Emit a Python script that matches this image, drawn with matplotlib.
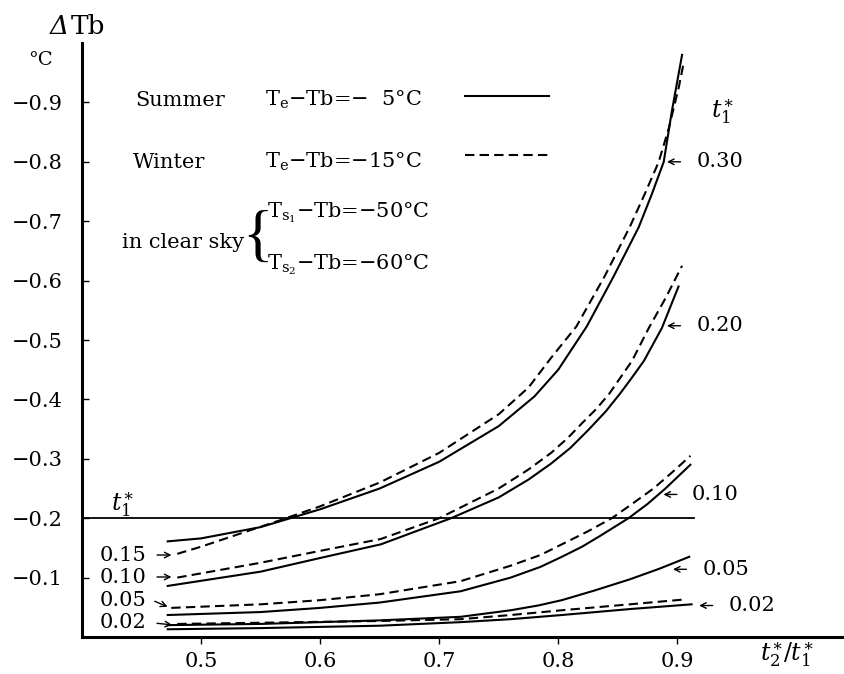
import matplotlib.pyplot as plt

plt.rcParams['font.family'] = ['DejaVu Serif', 'DejaVu Sans']
plt.rcParams['mathtext.fontset'] = 'dejavuserif'

# curves: x = t2*/t1*, y = delta Tb (degC)
# summer (solid) and winter (dashed), one pair per t1*
x_s30 = [0.472, 0.50, 0.55, 0.60, 0.65, 0.70, 0.75, 0.78, 0.80, 0.824, 0.8465, 0.8676, 0.8785, 0.8886, 0.8954, 0.904]
y_s30 = [-0.161, -0.166, -0.185, -0.215, -0.25, -0.295, -0.355, -0.405, -0.45, -0.523, -0.607, -0.69, -0.745, -0.80, -0.885, -0.98]
x_w30 = [0.48, 0.50, 0.567, 0.60, 0.65, 0.70, 0.75, 0.775, 0.794, 0.8153, 0.8389, 0.86, 0.8727, 0.8844, 0.8929, 0.9013, 0.9055]
y_w30 = [-0.14, -0.152, -0.197, -0.22, -0.26, -0.31, -0.375, -0.42, -0.47, -0.523, -0.607, -0.69, -0.746, -0.80, -0.857, -0.926, -0.968]

x_s20 = [0.472, 0.55, 0.60, 0.651, 0.71, 0.75, 0.775, 0.794, 0.81, 0.825, 0.84, 0.852, 0.862, 0.872, 0.887, 0.901]
y_s20 = [-0.086, -0.11, -0.133, -0.156, -0.20, -0.235, -0.265, -0.292, -0.318, -0.348, -0.38, -0.41, -0.437, -0.465, -0.52, -0.59]
x_w20 = [0.48, 0.55, 0.60, 0.651, 0.70, 0.75, 0.775, 0.794, 0.808, 0.82, 0.832, 0.843, 0.862, 0.876, 0.89, 0.904]
y_w20 = [-0.10, -0.125, -0.145, -0.165, -0.20, -0.25, -0.282, -0.31, -0.335, -0.36, -0.384, -0.41, -0.465, -0.52, -0.57, -0.625]

x_s10 = [0.472, 0.55, 0.60, 0.65, 0.718, 0.76, 0.785, 0.803, 0.82, 0.835, 0.859, 0.875, 0.89, 0.911]
y_s10 = [-0.037, -0.042, -0.049, -0.058, -0.077, -0.10, -0.118, -0.135, -0.152, -0.17, -0.20, -0.224, -0.25, -0.29]
x_w10 = [0.475, 0.55, 0.60, 0.65, 0.718, 0.76, 0.785, 0.803, 0.825, 0.845, 0.862, 0.88, 0.895, 0.911]
y_w10 = [-0.049, -0.055, -0.062, -0.072, -0.094, -0.12, -0.138, -0.156, -0.178, -0.20, -0.224, -0.25, -0.276, -0.305]

x_s05 = [0.472, 0.55, 0.60, 0.65, 0.718, 0.76, 0.783, 0.803, 0.83, 0.86, 0.885, 0.91]
y_s05 = [-0.02, -0.022, -0.025, -0.028, -0.034, -0.045, -0.053, -0.062, -0.078, -0.097, -0.115, -0.135]
x_w02 = [0.48, 0.55, 0.65, 0.718, 0.76, 0.803, 0.86, 0.905]
y_w02 = [-0.022, -0.024, -0.027, -0.03, -0.037, -0.045, -0.055, -0.063]
x_s02 = [0.472, 0.55, 0.65, 0.718, 0.76, 0.803, 0.86, 0.912]
y_s02 = [-0.013, -0.015, -0.019, -0.025, -0.03, -0.037, -0.047, -0.055]

x_t1 = [0.40, 0.914]
y_t1 = [-0.2, -0.2]

yticks = [-0.1, -0.2, -0.3, -0.4, -0.5, -0.6, -0.7, -0.8, -0.9]
ytick_labels = ['−0.1', '−0.2', '−0.3', '−0.4', '−0.5', '−0.6', '−0.7', '−0.8', '−0.9']
xticks = [0.5, 0.6, 0.7, 0.8, 0.9]
xtick_labels = ['0.5', '0.6', '0.7', '0.8', '0.9']

# right hand labels: text, arrow tip (on curve), arrow tail, text x
right_labels = [('0.30', 0.889, -0.80, 0.905, 0.916),
                ('0.20', 0.889, -0.524, 0.905, 0.916),
                ('0.10', 0.886, -0.240, 0.902, 0.912),
                ('0.05', 0.894, -0.114, 0.910, 0.921),
                ('0.02', 0.916, -0.053, 0.932, 0.943)]
# left hand labels: text, text y, tail (x, y), tip (x, y)
left_labels = [('0.15', -0.138, 0.4607, -0.138, 0.4775, -0.138),
               ('0.10', -0.101, 0.4607, -0.101, 0.4775, -0.101),
               ('0.05', -0.062, 0.459, -0.062, 0.474, -0.049),
               ('0.02', -0.025, 0.4607, -0.0235, 0.478, -0.020)]

W, H = 844, 674
fig = plt.figure(figsize=(W / 100, H / 100), dpi=100)
ax = fig.add_axes([82 / W, 1 - 637 / H, (W - 82) / W, (637 - 43) / H])


def ftext(px, py, s, **kw):
    kw.setdefault('fontsize', 15)
    kw.setdefault('va', 'center')
    fig.text(px / W, 1 - py / H, s, **kw)


lw = 1.5
dash = (4.5, 2.5)
for xs, ys in [(x_s30, y_s30), (x_s20, y_s20), (x_s10, y_s10), (x_s05, y_s05), (x_s02, y_s02)]:
    ax.plot(xs, ys, color='black', lw=lw)
for xs, ys in [(x_w30, y_w30), (x_w20, y_w20), (x_w10, y_w10), (x_w02, y_w02)]:
    ax.plot(xs, ys, color='black', lw=lw, dashes=dash)
ax.plot(x_t1, y_t1, color='black', lw=1.3)

ax.set_xlim(0.4, 1.04)
ax.set_ylim(0, -1.0)
ax.set_yticks(yticks)
ax.set_yticklabels(ytick_labels)
ax.set_xticks(xticks)
ax.set_xticklabels(xtick_labels)
ax.tick_params(axis='y', direction='in', length=5, width=1, pad=14, labelsize=15)
ax.tick_params(axis='x', direction='out', length=5, width=1, pad=6, labelsize=15)
for s in ['top', 'right']:
    ax.spines[s].set_visible(False)
for s in ['left', 'bottom']:
    ax.spines[s].set_linewidth(2.2)

for txt, tx, ty, ax_tail, tx_text in right_labels:
    ax.annotate('', xy=(tx, ty), xytext=(ax_tail, ty),
                arrowprops=dict(arrowstyle='->', lw=1, color='black'), annotation_clip=False)
    ax.text(tx_text, ty, txt, fontsize=15, va='center', ha='left')

for txt, ty, x0, y0, x1, y1 in left_labels:
    ax.annotate('', xy=(x1, y1), xytext=(x0, y0),
                arrowprops=dict(arrowstyle='->', lw=1, color='black'), annotation_clip=False)
    ax.text(0.4152, ty, txt, fontsize=15, va='center', ha='left')

ax.text(0.434, -0.222, r'$t_1^{\ast}$', fontsize=17, ha='center', va='center')
ax.text(0.9375, -0.885, r'$t_1^{\ast}$', fontsize=17, ha='center', va='center')

# axis titles
ftext(59, 26, 'Δ', fontsize=19, ha='center', style='italic')
ftext(88, 26, 'Tb', fontsize=19, ha='center')
ftext(40, 60, '°C', fontsize=14, ha='center')
ftext(787, 655, r'$t_2^{\ast}/t_1^{\ast}$', fontsize=17, ha='center')

# legend block
ftext(135, 100, 'Summer')
ftext(133, 162, 'Winter')
ftext(265, 100, r'T$_\mathregular{e}$−Tb=−  5°C')
ftext(265, 162, r'T$_\mathregular{e}$−Tb=−15°C')
ftext(122, 242, 'in clear sky')
ftext(258, 240, '{', fontsize=46, ha='center', family='Liberation Serif')
ftext(267, 213, r'T$_{\mathregular{s}_\mathregular{1}}$−Tb=−50°C')
ftext(267, 265, r'T$_{\mathregular{s}_\mathregular{2}}$−Tb=−60°C')
ax.plot([465 / W, 549 / W], [1 - 96 / H, 1 - 96 / H], transform=fig.transFigure,
        color='black', lw=lw, clip_on=False)
ax.plot([465 / W, 549 / W], [1 - 155 / H, 1 - 155 / H], transform=fig.transFigure,
        color='black', lw=lw, dashes=dash, clip_on=False)

fig.savefig('out.png', dpi=100)
